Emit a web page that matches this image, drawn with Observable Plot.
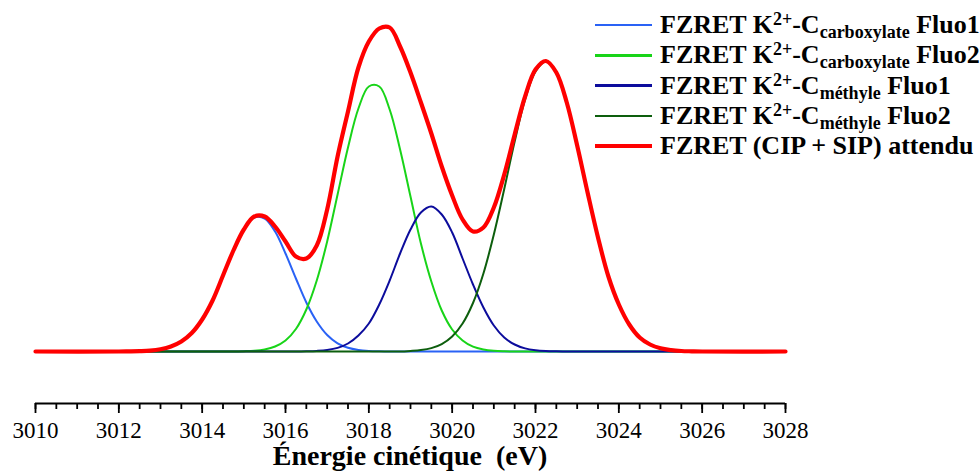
<!DOCTYPE html>
<html><head><meta charset="utf-8">
<script src="https://cdn.jsdelivr.net/npm/d3@7"></script>
<script src="https://cdn.jsdelivr.net/npm/@observablehq/plot@0.6"></script>
<style>
body{margin:0;background:#fff;overflow:hidden}
#wrap{position:relative;width:980px;height:473px;font-family:"Liberation Serif","Times New Roman",serif;color:#000;overflow:hidden}
#chart svg{display:block;font-family:"Liberation Serif","Times New Roman",serif !important}
#chart svg text{font-family:"Liberation Serif","Times New Roman",serif}
.xt{position:absolute;left:0;width:820px;text-align:center;top:447px;font-size:28px;font-weight:bold;line-height:18px;white-space:pre}
.leg{position:absolute;left:595px;width:420px;height:30px;line-height:30px;font-size:26px;font-weight:bold;white-space:nowrap}
.leg .sw{position:absolute;left:0;width:57px}
.leg .tx{position:absolute;left:65px;top:0}
.sup{font-size:18px;position:relative;top:-8px}
.sub{font-size:18px;position:relative;top:5px}
</style>
</head><body>
<div id="wrap"><div id="chart"></div></div>
<script>
// Energy grid (eV)
const energy = [3010, 3012, 3012.25, 3012.5, 3012.75, 3013, 3013.25, 3013.5, 3013.75, 3014, 3014.25, 3014.5, 3014.75,
  3015, 3015.25, 3015.5, 3015.75, 3016, 3016.25, 3016.5, 3016.75, 3017, 3017.25, 3017.5, 3017.75,
  3018, 3018.25, 3018.5, 3018.75, 3019, 3019.25, 3019.5, 3019.75, 3020, 3020.25, 3020.5, 3020.75,
  3021, 3021.25, 3021.5, 3021.75, 3022, 3022.25, 3022.5, 3022.75, 3023, 3023.25, 3023.5, 3023.75,
  3024, 3024.25, 3024.5, 3024.75, 3025, 3025.25, 3025.5, 3025.75, 3026, 3028];

// FZRET K2+-C carboxylate Fluo1
const carbFluo1 = [0, 0, 0, 0.3, 0.8, 2.2, 5, 10, 18.5, 32, 51, 76, 101,
  122, 134, 133, 120, 98, 73, 49, 30, 16.5, 8.2, 3.8, 1.6,
  0.6, 0.2, 0, 0, 0, 0, 0, 0, 0, 0, 0, 0,
  0, 0, 0, 0, 0, 0, 0, 0, 0, 0, 0, 0,
  0, 0, 0, 0, 0, 0, 0, 0, 0, 0];

// FZRET K2+-C carboxylate Fluo2
const carbFluo2 = [0, 0, 0, 0, 0, 0, 0, 0, 0, 0, 0, 0, 0,
  0.3, 0.8, 2.1, 5, 11, 22.5, 42, 71, 110, 157, 204, 243,
  265, 265, 242, 202, 155, 108, 70, 41, 22, 11, 4.8, 2,
  0.7, 0.2, 0, 0, 0, 0, 0, 0, 0, 0, 0, 0,
  0, 0, 0, 0, 0, 0, 0, 0, 0, 0];

// FZRET K2+-C méthyle Fluo1
const methFluo1 = [0, 0, 0, 0, 0, 0, 0, 0, 0, 0, 0, 0, 0,
  0, 0, 0, 0, 0, 0, 0.2, 0.6, 1.5, 3.6, 8, 16,
  28, 47, 71, 98, 122, 139, 145, 137, 119, 93, 67, 44,
  26, 14, 7, 3.1, 1.3, 0.5, 0.2, 0, 0, 0, 0, 0,
  0, 0, 0, 0, 0, 0, 0, 0, 0, 0];

// FZRET K2+-C méthyle Fluo2
const methFluo2 = [0, 0, 0, 0, 0, 0, 0, 0, 0, 0, 0, 0, 0,
  0, 0, 0, 0, 0, 0, 0, 0, 0, 0, 0, 0,
  0, 0, 0, 0, 0.6, 1.5, 3.4, 7.4, 15, 28, 48.5, 78,
  117, 162.5, 210, 252, 280, 290, 279, 249, 206, 159, 113.5, 75,
  46.5, 26.7, 14.2, 7, 3.2, 1.4, 0.5, 0.2, 0, 0];

// FZRET (CIP + SIP) attendu
const expected = [0, 0, 0.1, 0.3, 0.8, 2.2, 5, 10, 18.5, 32, 51, 76, 101,
  122, 135, 135, 125, 110, 95, 93, 106, 142, 195, 240, 284,
  310, 323, 324, 305, 279, 249, 218, 185, 156, 132, 120, 124,
  144, 177, 217, 255, 282, 290.5, 279, 249, 206, 159, 114, 75,
  47, 27, 14, 7, 3.2, 1.4, 0.5, 0.2, 0, 0];

const majorTicks = [3010, 3012, 3014, 3016, 3018, 3020, 3022, 3024, 3026, 3028];
const minorTicks = d3.range(3010, 3028.001, 0.5);

const serif = "Liberation Serif";
const seriesDefs = [
  {values: carbFluo1, color: "#2a62f5", width: 2},
  {values: carbFluo2, color: "#18d418", width: 2},
  {values: methFluo1, color: "#0c0c9c", width: 2},
  {values: methFluo2, color: "#0d5e0d", width: 2},
  {values: expected, color: "#ff0000", width: 4.2}
];

const lineMarks = seriesDefs.map(s =>
  Plot.line(energy.map((e, i) => ({e, v: s.values[i]})),
    {x: "e", y: "v", stroke: s.color, strokeWidth: s.width, curve: "catmull-rom", strokeLinejoin: "round"}));

const chart = Plot.plot({
  width: 980, height: 473,
  marginLeft: 35, marginRight: 195, marginTop: 25, marginBottom: 70,
  x: {domain: [3010, 3028]},
  y: {domain: [-52, 326], axis: null},
  style: {fontFamily: serif, color: "#000", background: "transparent"},
  marks: [
    Plot.ruleY([-52], {stroke: "#000", strokeWidth: 1.8}),
    Plot.axisX(minorTicks, {tickSize: 6, tickFormat: () => "", label: null, strokeWidth: 1.8}),
    Plot.axisX(majorTicks, {tickSize: 10, tickPadding: 8, tickFormat: d => String(d), fontSize: 23, fontFamily: serif, label: null, strokeWidth: 1.8}),
    ...lineMarks
  ]
});
document.getElementById("chart").appendChild(chart);

const wrap = document.getElementById("wrap");
const title = document.createElement("div");
title.className = "xt";
title.textContent = "Énergie cinétique  (eV)";
wrap.appendChild(title);

const legendRows = [
  {html: 'FZRET K<span class="sup">2+</span>-C<span class="sub">carboxylate</span> Fluo1', color: "#2a62f5", w: 2.5},
  {html: 'FZRET K<span class="sup">2+</span>-C<span class="sub">carboxylate</span> Fluo2', color: "#18d418", w: 2.5},
  {html: 'FZRET K<span class="sup">2+</span>-C<span class="sub">méthyle</span> Fluo1', color: "#0c0c9c", w: 2.5},
  {html: 'FZRET K<span class="sup">2+</span>-C<span class="sub">méthyle</span> Fluo2', color: "#0d5e0d", w: 2.5},
  {html: 'FZRET (CIP + SIP) attendu', color: "#ff0000", w: 4}
];
legendRows.forEach((r, i) => {
  const ly = 25 + i * 30.3;
  const row = document.createElement("div");
  row.className = "leg";
  row.style.top = (ly - 15) + "px";
  const sw = document.createElement("span");
  sw.className = "sw";
  sw.style.top = (15 - r.w / 2) + "px";
  sw.style.height = r.w + "px";
  sw.style.background = r.color;
  const tx = document.createElement("span");
  tx.className = "tx";
  tx.innerHTML = r.html;
  row.appendChild(sw); row.appendChild(tx);
  wrap.appendChild(row);
});
</script>
</body></html>
